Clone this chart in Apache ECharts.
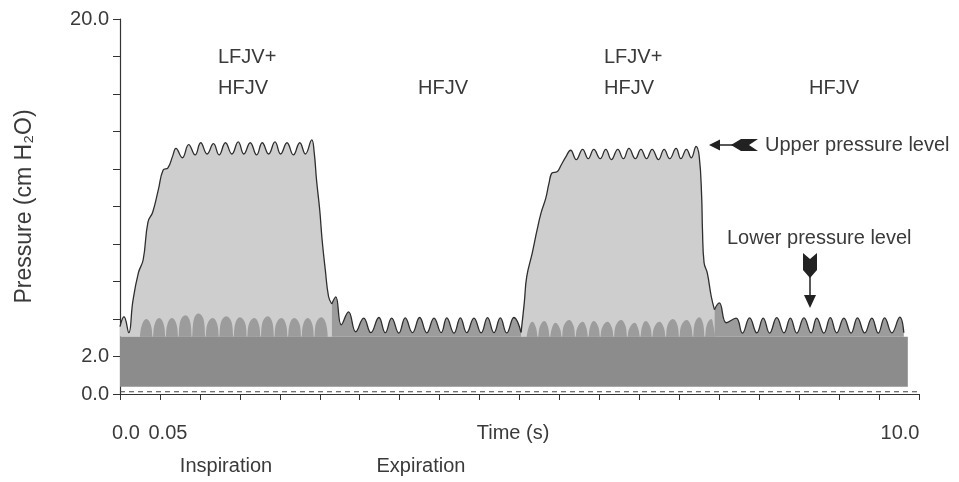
<!DOCTYPE html>
<html>
<head>
<meta charset="utf-8">
<title>Pressure waveform</title>
<script src="https://cdn.jsdelivr.net/npm/echarts@6/dist/echarts.min.js"></script>
<style>
  html, body { margin: 0; padding: 0; background: #fff; }
  #chart { width: 959px; height: 482px; }
</style>
</head>
<body>
<div id="chart"></div>
<script>
// [time (s), pressure (cm H2O)]
var inspiration1 = [
    [0.00, 3.59], [0.05, 4.12], [0.11, 3.27], [0.16, 4.92], [0.23, 6.46], [0.29, 7.16],
    [0.35, 9.17], [0.41, 9.71], [0.48, 10.9], [0.54, 11.95], [0.60, 12.06], [0.66, 12.7],
    [0.70, 13.1], [0.78, 12.6], [0.86, 13.3], [0.94, 12.75], [1.01, 13.4], [1.09, 12.8],
    [1.17, 13.35], [1.24, 12.75], [1.32, 13.4], [1.40, 12.8], [1.48, 13.45], [1.55, 12.8],
    [1.63, 13.4], [1.71, 12.75], [1.78, 13.4], [1.86, 12.8], [1.94, 13.45], [2.01, 12.8],
    [2.09, 13.4], [2.17, 12.75], [2.25, 13.4], [2.32, 12.8], [2.40, 13.55],
    [2.43, 12.9], [2.46, 11.4], [2.50, 9.8], [2.53, 8.2], [2.57, 6.6], [2.61, 5.2], [2.65, 4.8]
];
var expiration1 = [
    [2.65, 4.8], [2.70, 5.18], [2.77, 3.69], [2.86, 4.38], [2.95, 3.32], [3.05, 4.05],
    [3.14, 3.27], [3.24, 4.08], [3.32, 3.27], [3.40, 4.05], [3.49, 3.25], [3.57, 4.06],
    [3.66, 3.27], [3.75, 4.08], [3.84, 3.26], [3.93, 4.05], [4.02, 3.27], [4.09, 4.06],
    [4.18, 3.25], [4.26, 4.06], [4.34, 3.27], [4.43, 4.05], [4.52, 3.26], [4.60, 4.07],
    [4.68, 3.27], [4.76, 4.06], [4.84, 3.26], [4.93, 4.08], [5.02, 3.27]
];
var inspiration2 = [
    [5.02, 3.3], [5.06, 4.87], [5.09, 6.25], [5.16, 7.53], [5.22, 8.75], [5.27, 9.66],
    [5.33, 10.46], [5.37, 11.26], [5.41, 11.8], [5.47, 11.85], [5.52, 12.2], [5.58, 12.65],
    [5.64, 13.0], [5.71, 12.5], [5.79, 13.05], [5.86, 12.55], [5.93, 13.05], [6.01, 12.55],
    [6.08, 13.05], [6.15, 12.5], [6.23, 13.05], [6.30, 12.55], [6.37, 13.1], [6.45, 12.55],
    [6.52, 13.05], [6.59, 12.55], [6.66, 13.05], [6.74, 12.5], [6.81, 13.05], [6.88, 12.55],
    [6.96, 13.1], [7.02, 12.55], [7.09, 13.05], [7.15, 12.6], [7.21, 13.2],
    [7.25, 12.65], [7.28, 10.5], [7.29, 8.75], [7.31, 7.0], [7.35, 6.46], [7.40, 5.2], [7.44, 4.5]
];
var expiration2 = [
    [7.44, 4.5], [7.50, 4.86], [7.59, 3.8], [7.71, 4.05], [7.79, 3.25], [7.88, 4.06],
    [7.97, 3.26], [8.05, 4.05], [8.13, 3.25], [8.22, 4.07], [8.31, 3.26], [8.39, 4.05],
    [8.47, 3.25], [8.56, 4.06], [8.65, 3.26], [8.72, 4.05], [8.81, 3.25], [8.89, 4.07],
    [8.97, 3.26], [9.06, 4.05], [9.15, 3.25], [9.23, 4.06], [9.32, 3.26], [9.41, 4.05],
    [9.49, 3.25], [9.57, 4.06], [9.66, 3.26], [9.76, 4.1], [9.81, 3.27]
];
// HFJV pulses under the inspiratory plateau (gap, shoulder, crest, shoulder, gap ...)
var hfjvPulses1 = [
    [0.25, 3.05], [0.275, 3.7], [0.33, 4.0], [0.385, 3.7],
    [0.41, 3.05], [0.435, 3.75], [0.49, 4.05], [0.545, 3.75],
    [0.57, 3.05], [0.595, 3.75], [0.65, 4.05], [0.705, 3.75],
    [0.73, 3.05], [0.755, 3.9], [0.82, 4.2], [0.875, 3.9],
    [0.90, 3.05], [0.925, 4.0], [0.98, 4.3], [1.045, 4.0],
    [1.07, 3.05], [1.095, 3.75], [1.16, 4.05], [1.215, 3.75],
    [1.24, 3.05], [1.265, 3.85], [1.33, 4.15], [1.395, 3.85],
    [1.42, 3.05], [1.445, 3.8], [1.50, 4.1], [1.565, 3.8],
    [1.59, 3.05], [1.615, 3.75], [1.68, 4.05], [1.735, 3.75],
    [1.76, 3.05], [1.785, 3.85], [1.85, 4.15], [1.905, 3.85],
    [1.93, 3.05], [1.955, 3.75], [2.02, 4.05], [2.075, 3.75],
    [2.10, 3.05], [2.125, 3.75], [2.18, 4.05], [2.245, 3.75],
    [2.27, 3.05], [2.295, 3.75], [2.35, 4.05], [2.405, 3.75],
    [2.43, 3.05], [2.455, 3.8], [2.52, 4.1], [2.575, 3.8],
    [2.60, 3.05]
];
var hfjvPulses2 = [
    [5.09, 3.05], [5.115, 3.55], [5.16, 3.85], [5.205, 3.55],
    [5.23, 3.05], [5.255, 3.6], [5.31, 3.9], [5.355, 3.6],
    [5.38, 3.05], [5.405, 3.5], [5.45, 3.8], [5.505, 3.5],
    [5.53, 3.05], [5.555, 3.65], [5.62, 3.95], [5.675, 3.65],
    [5.70, 3.05], [5.725, 3.55], [5.79, 3.85], [5.835, 3.55],
    [5.86, 3.05], [5.885, 3.6], [5.93, 3.9], [5.985, 3.6],
    [6.01, 3.05], [6.035, 3.55], [6.10, 3.85], [6.155, 3.55],
    [6.18, 3.05], [6.205, 3.65], [6.27, 3.95], [6.325, 3.65],
    [6.35, 3.05], [6.375, 3.5], [6.44, 3.8], [6.485, 3.5],
    [6.51, 3.05], [6.535, 3.6], [6.58, 3.9], [6.635, 3.6],
    [6.66, 3.05], [6.685, 3.55], [6.75, 3.85], [6.805, 3.55],
    [6.83, 3.05], [6.855, 3.7], [6.92, 4.0], [6.975, 3.7],
    [7.00, 3.05], [7.025, 3.65], [7.09, 3.95], [7.145, 3.65],
    [7.17, 3.05], [7.195, 3.8], [7.25, 4.1], [7.295, 3.8],
    [7.32, 3.05], [7.345, 3.7], [7.40, 4.0], [7.425, 3.7],
    [7.45, 3.05]
];
var peep = [[0, 3.05], [9.86, 3.05]];
var peepFloor = 0.39;
var zeroLine = [[0, 0.12], [10, 0.12]];

var xTickLabels = { '0': '0.0', '0.5': '0.05', '10': '10.0' };
var yTickLabels = { '0': '0.0', '2': '2.0', '20': '20.0' };

document.addEventListener('DOMContentLoaded', function () {
    var chart = echarts.init(document.getElementById('chart'));
    var font = '"Liberation Sans", Arial, sans-serif';
    var ink = '#3a3a3a';

    function trace(data, fill, withLine) {
        return {
            type: 'line',
            data: data,
            smooth: 0.45,
            symbol: 'none',
            lineStyle: withLine ? { color: '#2e2e2e', width: 1.3 } : { width: 0, opacity: 0 },
            areaStyle: { color: fill, opacity: 1, origin: 3.05 },
            silent: true
        };
    }

    function label(text, x, y, align) {
        return {
            type: 'text', x: x, y: y,
            style: {
                text: text, fill: ink, font: '20px ' + font,
                align: align || 'left', verticalAlign: 'middle'
            }
        };
    }

    var option = {
        animation: false,
        textStyle: { fontFamily: font },
        grid: { left: 120, right: 40, top: 19, bottom: 88 },
        xAxis: {
            type: 'value', min: 0, max: 10, interval: 0.5,
            offset: 8,
            axisLine: { lineStyle: { color: '#333', width: 1.2 } },
            axisTick: { length: 6, lineStyle: { color: '#333' } },
            axisLabel: {
                margin: 21, color: ink, fontSize: 20,
                formatter: function (v) {
                    var s = xTickLabels[String(v)];
                    if (!s) return '';
                    if (v === 0) return '{a|' + s + '}';
                    if (v === 10) return '{c|' + s + '}';
                    return '{b|' + s + '}';
                },
                rich: {
                    a: { fontSize: 20, color: ink, padding: [0, 0, 0, 12] },
                    b: { fontSize: 20, color: ink, padding: [0, 0, 0, 16] },
                    c: { fontSize: 20, color: ink, padding: [0, 38, 0, 0] }
                }
            },
            splitLine: { show: false }
        },
        yAxis: {
            type: 'value', min: 0, max: 20, interval: 2,
            name: 'Pressure (cm H₂O)', nameLocation: 'middle', nameGap: 84,
            nameTextStyle: { color: ink, fontSize: 23 },
            axisLine: { show: true, lineStyle: { color: '#333', width: 1.2 } },
            axisTick: { show: true, length: 7, lineStyle: { color: '#333' } },
            axisLabel: {
                margin: 11, color: ink, fontSize: 20,
                formatter: function (v) { return yTickLabels[String(v)] || ''; }
            },
            splitLine: { show: false }
        },
        series: [
            trace(inspiration1, '#cecece', true),
            trace(inspiration2, '#cecece', true),
            trace(hfjvPulses1, '#9c9c9c', false),
            trace(hfjvPulses2, '#9c9c9c', false),
            trace(expiration1, '#9c9c9c', true),
            trace(expiration2, '#9c9c9c', true),
            {
                type: 'line', data: peep, symbol: 'none', silent: true,
                lineStyle: { width: 0, opacity: 0 },
                areaStyle: { color: '#8c8c8c', opacity: 1, origin: peepFloor }
            },
            {
                type: 'line', data: zeroLine, symbol: 'none', silent: true,
                lineStyle: { color: '#444', width: 1.2, type: [5, 4] }
            }
        ],
        graphic: [
            label('LFJV+', 218, 57),
            label('HFJV', 218, 88),
            label('HFJV', 443, 88, 'center'),
            label('LFJV+', 604, 57),
            label('HFJV', 604, 88),
            label('HFJV', 834, 88, 'center'),
            label('Peak airway', 248, 184, 'center'),
            label('pressure', 249, 212, 'center'),
            label('PEEP', 132, 359),
            label('Upper pressure level', 765, 145),
            label('Lower pressure level', 727, 238),
            label('Time (s)', 513, 433, 'center'),
            label('Inspiration', 226, 466, 'center'),
            label('Expiration', 421, 466, 'center'),
            // upper level arrow
            { type: 'line', shape: { x1: 716, y1: 145, x2: 740, y2: 145 }, style: { stroke: '#222', lineWidth: 1.5 } },
            { type: 'polygon', shape: { points: [[709, 145], [720, 139.5], [720, 150.5]] }, style: { fill: '#222' } },
            { type: 'polygon', shape: { points: [[731, 145], [741, 139], [758, 139], [749, 145], [758, 151], [741, 151]] }, style: { fill: '#222' } },
            // lower level arrow
            { type: 'polygon', shape: { points: [[803, 253], [810, 259], [817, 253], [817, 270], [810, 278], [803, 270]] }, style: { fill: '#222' } },
            { type: 'line', shape: { x1: 810, y1: 272, x2: 810, y2: 298 }, style: { stroke: '#222', lineWidth: 1.5 } },
            { type: 'polygon', shape: { points: [[810, 308], [804, 295], [816, 295]] }, style: { fill: '#222' } }
        ]
    };
    chart.setOption(option);
});
</script>
</body>
</html>
